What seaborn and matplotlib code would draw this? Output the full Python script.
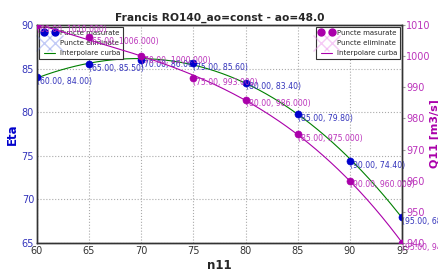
import numpy as np
import matplotlib
matplotlib.use("Agg")
import matplotlib.pyplot as plt
import seaborn as sns
from matplotlib.lines import Line2D

# --- data ---
n11 = [60, 65, 70, 75, 80, 85, 90, 95]
eta = [84.0, 85.5, 86.0, 85.6, 83.4, 79.8, 74.4, 68.0]
q11 = [1010.0, 1006.0, 1000.0, 993.0, 986.0, 975.0, 960.0, 940.0]

eta_color = '#0000cc'
eta_text = '#3333bb'
q_color = '#aa00aa'
q_text = '#bb33bb'

sns.set_style("white")
plt.rcParams['font.family'] = ['DejaVu Sans']

fig = plt.figure(figsize=(4.39, 2.71), dpi=100)
ax = fig.add_axes([0.084, 0.103, 0.832, 0.805])
ax2 = ax.twinx()

# interpolation curves (cubic fit through measured points)
xs = np.linspace(min(n11), max(n11), 200)
eta_fit = np.polyval(np.polyfit(n11, eta, 3), xs)
q_fit = np.polyval(np.polyfit(n11, q11, 3), xs)

sns.lineplot(x=xs, y=eta_fit, ax=ax, color='green', lw=0.8, legend=False)
sns.scatterplot(x=n11, y=eta, ax=ax, color=eta_color, s=26, edgecolor=eta_color, zorder=5, legend=False)
sns.lineplot(x=xs, y=q_fit, ax=ax2, color=q_color, lw=0.8, legend=False)
sns.scatterplot(x=n11, y=q11, ax=ax2, color=q_color, s=26, edgecolor=q_color, zorder=5, legend=False)

for x, y in zip(n11, eta):
    ax.annotate('(%.2f, %.2f)' % (x, y), (x, y), xytext=(0, -3), textcoords='offset points',
                fontsize=5.6, color=eta_text, va='center', ha='left', annotation_clip=False)
for x, y in zip(n11, q11):
    ax2.annotate('(%.2f, %.3f)' % (x, y), (x, y), xytext=(0, -3), textcoords='offset points',
                 fontsize=5.6, color=q_text, va='center', ha='left', annotation_clip=False)

ax.set_xlim(60, 95)
ax.set_ylim(65, 90)
ax2.set_ylim(940, 1010)
ax.set_xticks(range(60, 96, 5))
ax.set_yticks(range(65, 91, 5))
ax2.set_yticks(range(940, 1011, 10))

ax.grid(True, linestyle=':', color='#aaaaaa', lw=0.8)
for a in (ax, ax2):
    for sp in a.spines.values():
        sp.set_color('#333333')
        sp.set_linewidth(1.0)

ax.tick_params(axis='x', labelsize=7, colors='#333333', length=0, pad=2)
ax.tick_params(axis='y', labelsize=7, labelcolor=eta_text, length=0, pad=2)
ax2.tick_params(axis='y', labelsize=7, labelcolor=q_text, colors='#999999', length=2, direction='out', pad=1)

ax.set_title('Francis RO140_ao=const - ao=48.0', fontsize=7.7, fontweight='bold', pad=3)
ax.set_xlabel('n11', fontsize=8.5, fontweight='bold', labelpad=2)
ax.set_ylabel('Eta', fontsize=8.5, fontweight='bold', color=eta_color, labelpad=2)
ax2.set_ylabel('Q11 [m3/s]', fontsize=8, fontweight='bold', color=q_color, labelpad=-1)

# legends with empty "eliminated points" series
h1 = [Line2D([], [], marker='o', color=eta_color, ls='', ms=5),
      Line2D([], [], marker='x', color='#8899ee', ls='', ms=11, alpha=0.5),
      Line2D([], [], color='green', lw=0.8)]
h2 = [Line2D([], [], marker='o', color=q_color, ls='', ms=5),
      Line2D([], [], marker='x', color='#ee99ee', ls='', ms=11, alpha=0.5),
      Line2D([], [], color=q_color, lw=0.8)]
labels = ['Puncte masurate', 'Puncte eliminate', 'Interpolare curba']
leg_kw = dict(fontsize=5, numpoints=2, frameon=True, fancybox=False, edgecolor='#333333',
              borderpad=0.4, labelspacing=0.6, handlelength=2.2, handletextpad=0.4,
              borderaxespad=0.3, framealpha=1)
leg1 = ax.legend(h1, labels, loc='upper left', **leg_kw)
leg1.get_frame().set_linewidth(0.8)
leg2 = ax2.legend(h2, labels, loc='upper right', **leg_kw)
leg2.get_frame().set_linewidth(0.8)

fig.savefig('out.png', dpi=100)
